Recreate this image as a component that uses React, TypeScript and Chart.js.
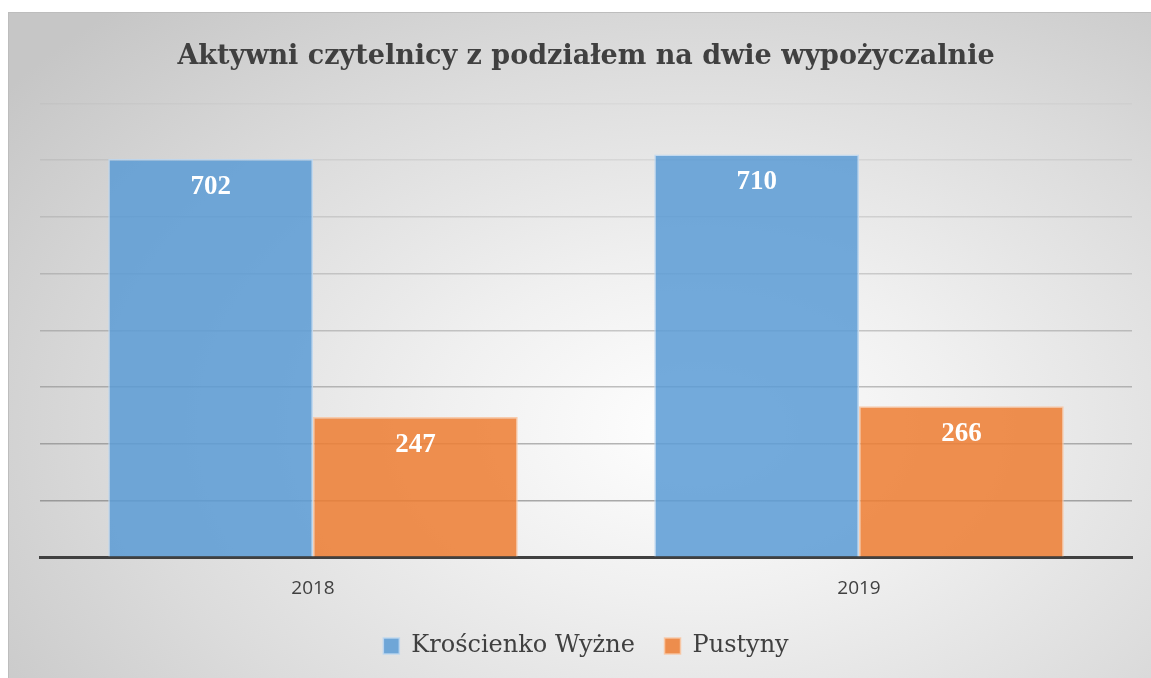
import React, { useEffect, useRef } from "react";
import { Chart, registerables } from "chart.js";

Chart.register(...registerables);

const TITLE = "Aktywni czytelnicy z podziałem na dwie wypożyczalnie";
const categories = ["2018", "2019"];
const seriesNames = ["Krościenko Wyżne", "Pustyny"];
const krosciankoValues = [702, 710];
const pustynyValues = [247, 266];
const yMax = 800;
const yStep = 100;

const valueLabels = {
  id: "valueLabels",
  afterDatasetsDraw(chart: any) {
    const ctx = chart.ctx;
    ctx.save();
    ctx.fillStyle = "#ffffff";
    ctx.font = "bold 27px 'Liberation Serif', serif";
    ctx.textAlign = "center";
    ctx.textBaseline = "middle";
    chart.data.datasets.forEach((ds: any, di: number) => {
      const meta = chart.getDatasetMeta(di);
      meta.data.forEach((bar: any, i: number) => {
        ctx.fillText(String(ds.data[i]), bar.x, bar.y + 28);
      });
    });
    ctx.restore();
  },
};

export default function App() {
  const ref = useRef<HTMLCanvasElement>(null);
  useEffect(() => {
    if (!ref.current) return;
    const chart = new Chart(ref.current, {
      type: "bar",
      data: {
        labels: categories,
        datasets: [
          {
            label: seriesNames[0],
            data: krosciankoValues,
            backgroundColor: "rgba(91,155,213,0.85)",
            borderColor: "rgba(190,215,240,0.9)",
            borderWidth: 1.5,
          },
          {
            label: seriesNames[1],
            data: pustynyValues,
            backgroundColor: "rgba(237,125,49,0.85)",
            borderColor: "rgba(248,200,165,0.9)",
            borderWidth: 1.5,
          },
        ],
      },
      options: {
        animation: false,
        responsive: false,
        categoryPercentage: 0.75,
        barPercentage: 1,
        layout: { padding: { left: 31, right: 26, top: 28, bottom: 14 } },
        plugins: {
          title: {
            display: true,
            text: TITLE,
            color: "#404040",
            font: { family: "'DejaVu Serif', serif", size: 27, weight: "bold" },
            padding: { top: 0, bottom: 30 },
          },
          legend: {
            position: "bottom",
            labels: {
              color: "#404040",
              font: { family: "'DejaVu Serif', serif", size: 24 },
              boxWidth: 16,
              boxHeight: 16,
              padding: 22,
              generateLabels: (chart: any) => {
                const items = Chart.defaults.plugins.legend.labels.generateLabels(chart);
                return items.map((it: any, i: number) =>
                  i < items.length - 1 ? { ...it, text: it.text + " " } : it
                );
              },
            },
          },
          tooltip: { enabled: false },
        },
        scales: {
          x: {
            grid: { display: false },
            border: { display: true, color: "#404040", width: 3 },
            ticks: {
              color: "#404040",
              font: { family: "'Open Sans', sans-serif", size: 19 },
              padding: 12,
            },
          },
          y: {
            min: 0,
            max: yMax,
            ticks: { display: false, stepSize: yStep },
            border: { display: false },
            grid: {
              drawTicks: false,
              lineWidth: 1.5,
              color: (c: any) => {
                const v = c.tick ? c.tick.value : 0;
                const a = 0.6 - (v / yMax) * 0.55;
                return `rgba(100,100,100,${a.toFixed(3)})`;
              },
            },
          },
        },
      } as any,
      plugins: [valueLabels],
    });
    return () => chart.destroy();
  }, []);
  return (
    <div
      style={{
        position: "absolute",
        left: 8,
        top: 12,
        width: 1150,
        height: 670,
        borderTop: "1px solid #bdbdbd",
        borderLeft: "1px solid #bdbdbd",
        boxSizing: "border-box",
        background:
          "radial-gradient(ellipse 75% 85% at 60% 62%, #ffffff 0%, #f0f0f0 30%, #dcdcdc 65%, #c6c6c6 100%)",
      }}
    >
      <canvas ref={ref} width={1149} height={669} style={{ display: "block" }} />
    </div>
  );
}
